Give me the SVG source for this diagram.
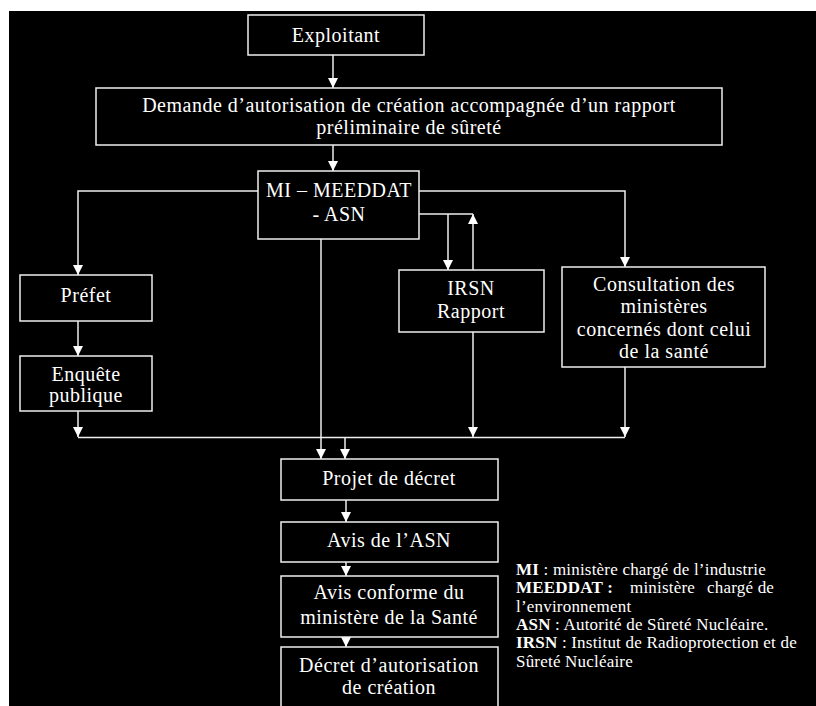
<svg xmlns="http://www.w3.org/2000/svg" width="816" height="706" viewBox="0 0 816 706">
<style>
.box{fill:#000;stroke:#eeeeee;stroke-width:1.5}
.t{font-family:"Liberation Serif","Times New Roman",serif;font-size:20px;fill:#fff;text-anchor:middle;letter-spacing:0.5px}
.lg{font-family:"Liberation Serif","Times New Roman",serif;font-size:17px;fill:#fff;letter-spacing:0.2px}
.b{font-weight:bold}
.c{fill:none;stroke:#eeeeee;stroke-width:1.5}
.a{marker-end:url(#ah)}
</style>
<defs>
<marker id="ah" markerUnits="userSpaceOnUse" markerWidth="10" markerHeight="10" refX="10" refY="5" orient="auto">
<path d="M0,0 L10,5 L0,10 z" fill="#fff"/>
</marker>
</defs>
<rect x="0" y="0" width="816" height="706" fill="#fff"/>
<rect x="9" y="11" width="807" height="695" fill="#000"/>
<g id="connectors">
<path class="c a" d="M333,55 V88"/>
<path class="c a" d="M333,145 V171"/>
<path class="c a" d="M258,191 H78 V275"/>
<path class="c a" d="M78,321 V356"/>
<path class="c a" d="M78,411 V437"/>
<path class="c a" d="M419,191 H625 V267"/>
<path class="c" d="M419,214 H473"/>
<path class="c a" d="M448,214 V270"/>
<path class="c a" d="M473,270 V214"/>
<path class="c a" d="M473,332 V437"/>
<path class="c a" d="M625,367 V437"/>
<path class="c" d="M78,437.5 H625"/>
<path class="c a" d="M321,239 V459"/>
<path class="c a" d="M345,437 V459"/>
<path class="c a" d="M346,500 V522"/>
<path class="c a" d="M346,562 V576"/>
<path class="c a" d="M346,637 V647"/>
</g>
<g id="exploitant"><rect class="box" x="248" y="15" width="176" height="40"/><text class="t" x="336" y="42">Exploitant</text></g>
<g id="demande"><rect class="box" x="96" y="88" width="626" height="57"/><text class="t" x="409" y="112">Demande d’autorisation de création accompagnée d’un rapport</text><text class="t" x="409" y="134">préliminaire de sûreté</text></g>
<g id="mi"><rect class="box" x="258" y="171" width="161" height="68"/><text class="t" x="339" y="197">MI – MEEDDAT</text><text class="t" x="339" y="221">- ASN</text></g>
<g id="prefet"><rect class="box" x="20" y="275" width="132" height="46"/><text class="t" x="86" y="302">Préfet</text></g>
<g id="enquete"><rect class="box" x="20" y="356" width="132" height="55"/><text class="t" x="86" y="381">Enquête</text><text class="t" x="86" y="402">publique</text></g>
<g id="irsn"><rect class="box" x="399" y="270" width="145" height="62"/><text class="t" x="471" y="295">IRSN</text><text class="t" x="471" y="318">Rapport</text></g>
<g id="consultation"><rect class="box" x="562" y="267" width="203" height="100"/><text class="t" x="664" y="291">Consultation des</text><text class="t" x="664" y="313">ministères</text><text class="t" x="664" y="336">concernés dont celui</text><text class="t" x="664" y="358">de la santé</text></g>
<g id="projet"><rect class="box" x="281" y="459" width="217" height="41"/><text class="t" x="389" y="485">Projet de décret</text></g>
<g id="avis-asn"><rect class="box" x="281" y="522" width="217" height="40"/><text class="t" x="389" y="547">Avis de l’ASN</text></g>
<g id="avis-conforme"><rect class="box" x="281" y="576" width="217" height="61"/><text class="t" x="389" y="599">Avis conforme du</text><text class="t" x="389" y="624">ministère de la Santé</text></g>
<g id="decret"><rect class="box" x="281" y="647" width="217" height="70"/><text class="t" x="389" y="672">Décret d’autorisation</text><text class="t" x="389" y="694">de création</text></g>
<g id="legend">
<text class="lg" x="516" y="575"><tspan class="b">MI</tspan> : ministère chargé de l’industrie</text>
<text class="lg" x="516" y="593"><tspan class="b">MEEDDAT :</tspan></text>
<text class="lg" x="630" y="593">ministère</text>
<text class="lg" x="707" y="593">chargé de</text>
<text class="lg" x="516" y="612">l’environnement</text>
<text class="lg" x="516" y="630"><tspan class="b">ASN</tspan> : Autorité de Sûreté Nucléaire.</text>
<text class="lg" x="516" y="648"><tspan class="b">IRSN</tspan> : Institut de Radioprotection et de</text>
<text class="lg" x="516" y="667">Sûreté Nucléaire</text>
</g>
</svg>
